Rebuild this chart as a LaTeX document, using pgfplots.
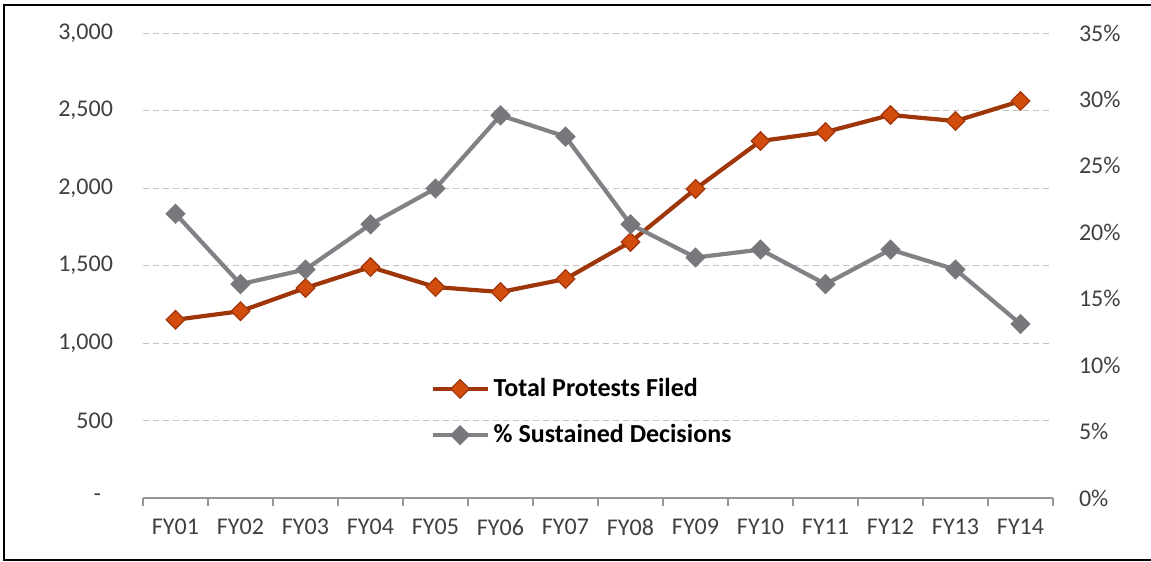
\documentclass[border=0pt]{standalone}
\usepackage{pgfplots}
\pgfplotsset{compat=1.18}
\usepackage{fontspec}
\setmainfont{Carlito}
\definecolor{rust}{RGB}{158,54,10}
\definecolor{rustfill}{RGB}{210,76,14}
\definecolor{gline}{RGB}{128,130,134}
\definecolor{gmark}{RGB}{118,120,124}
\definecolor{txt}{RGB}{64,64,64}
\definecolor{gridc}{RGB}{195,195,195}
\definecolor{axc}{RGB}{150,150,150}
\begin{document}
\begin{tikzpicture}
\useasboundingbox (0,0) rectangle (575.5pt,-281pt);
\draw[black,line width=1.2pt] (577pt,-2.5pt) -- (2pt,-2.5pt) -- (2pt,-280pt) -- (577pt,-280pt);
\begin{axis}[
  at={(71.5pt,-249pt)}, anchor=south west,
  scale only axis, width=455pt, height=232.5pt,
  xmin=-0.5, xmax=13.5, ymin=0, ymax=3000,
  axis x line*=bottom, axis y line*=left,
  y axis line style={draw=none},
  x axis line style={axc, line width=0.7pt, -},
  xtick={0,...,13},
  xticklabels={FY01,FY02,FY03,FY04,FY05,FY06,FY07,FY08,FY09,FY10,FY11,FY12,FY13,FY14},
  minor xtick={-0.5,0.5,...,13.5},
  major tick length=0pt, minor tick length=4pt, tick align=outside,
  minor tick style={axc,line width=0.7pt},
  ytick={0,500,...,3000},
  yticklabels={{-\hspace*{6pt}},{500},{1,000},{1,500},{2,000},{2,500},{3,000}},
  ymajorgrids,
  major grid style={gridc, dash pattern=on 3pt off 2pt, line width=0.5pt},
  tick label style={font=\fontsize{12}{14}\selectfont, text=txt},
  yticklabel style={xshift=-11.5pt},
  xticklabel style={yshift=-7pt},
  legend cell align=left,
  legend style={at={(rel axis cs:0.3155,0.267)}, anchor=north west, draw=none, fill=none,
    font=\bfseries\fontsize{13}{15}\selectfont, row sep=8.5pt, inner sep=0pt},
  legend image code/.code={\draw[mark repeat=2,mark phase=2,#1] plot coordinates {(0pt,0pt) (13.75pt,0pt) (27.5pt,0pt)};},
  clip=false,
]
\addplot[rust, line width=2.1pt, mark=square*, mark size=3.3pt,
  mark options={rotate=45, fill=rustfill, draw=rust, line width=0.6pt}]
  coordinates {(0,1150) (1,1205) (2,1355) (3,1490) (4,1361) (5,1329) (6,1413)
  (7,1652) (8,1994) (9,2303) (10,2361) (11,2471) (12,2432) (13,2561)};
\addlegendentry{Total Protests Filed}
\addlegendimage{gline, line width=2.1pt, mark=square*, mark size=3.3pt,
  mark options={rotate=45, fill=gmark, draw=gmark, line width=0.6pt}}
\addlegendentry{\% Sustained Decisions}
\end{axis}
\begin{axis}[
  at={(71.5pt,-249pt)}, anchor=south west,
  scale only axis, width=455pt, height=232.5pt,
  xmin=-0.5, xmax=13.5, ymin=0, ymax=35,
  axis x line=none, axis y line*=right,
  y axis line style={draw=none},
  major tick length=0pt,
  ytick={0,5,...,35},
  yticklabels={0\%,5\%,10\%,15\%,20\%,25\%,30\%,35\%},
  tick label style={font=\fontsize{12}{14}\selectfont, text=txt},
  yticklabel style={xshift=9.5pt},
  clip=false,
]
\addplot[gline, line width=2.1pt, mark=square*, mark size=3.3pt,
  mark options={rotate=45, fill=gmark, draw=gmark, line width=0.6pt}]
  coordinates {(0,21.4) (1,16.1) (2,17.2) (3,20.6) (4,23.3) (5,28.8) (6,27.2)
  (7,20.6) (8,18.1) (9,18.7) (10,16.1) (11,18.7) (12,17.2) (13,13.1)};
\end{axis}
\end{tikzpicture}
\end{document}
